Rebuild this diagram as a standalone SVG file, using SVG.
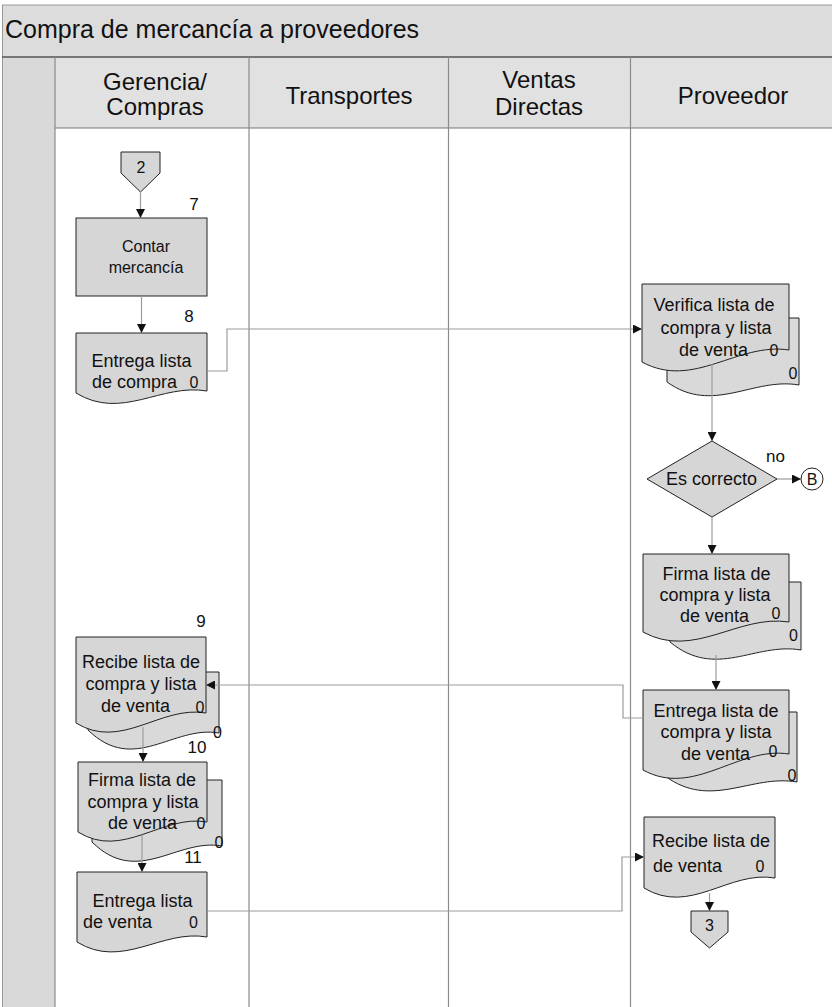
<svg xmlns="http://www.w3.org/2000/svg" width="832" height="1007" viewBox="0 0 832 1007">
  <defs>
    <marker id="ah" viewBox="0 0 10 10" refX="10" refY="5" markerWidth="9" markerHeight="9" markerUnits="userSpaceOnUse" orient="auto">
      <path d="M0,0 L10,5 L0,10 Z" fill="#111"/>
    </marker>
    <style>
      .t { font-family: "Liberation Sans", Arial, sans-serif; fill: #111; }
      .title { font-size: 25px; }
      .lane { font-size: 24px; text-anchor: middle; }
      .txt { font-size: 18px; }
      .mid { text-anchor: middle; }
      .num { font-size: 17px; text-anchor: middle; }
      .zero { font-size: 16px; text-anchor: middle; }
      .shape { fill: #d6d6d6; stroke: #222; stroke-width: 1; }
      .back { fill: #d9d9d9; stroke: #222; stroke-width: 1; }
      .divider { stroke: #8a8a8a; stroke-width: 1.2; }
      .conn { fill: none; stroke: #9c9c9c; stroke-width: 1.2; }
      .flow { fill: none; stroke: #9c9c9c; stroke-width: 1.2; marker-end: url(#ah); }
    </style>
  </defs>

  <!-- pool background -->
  <rect x="0" y="0" width="832" height="1007" fill="#ffffff"/>
  <rect x="2" y="5" width="830" height="52" fill="#dcdcdc"/>
  <rect x="2" y="57" width="53" height="950" fill="#d9d9d9"/>
  <rect x="55" y="57" width="777" height="71" fill="#e1e1e1"/>
  <line x1="2" y1="5" x2="832" y2="5" stroke="#999"/>
  <line x1="2.5" y1="5" x2="2.5" y2="1007" stroke="#999"/>
  <line x1="2" y1="57" x2="832" y2="57" stroke="#555" stroke-width="1.5"/>
  <line x1="55" y1="128" x2="832" y2="128" stroke="#777" stroke-width="1.2"/>
  <text class="t title" x="5" y="38">Compra de mercancía a proveedores</text>

  <!-- lanes -->
  <g id="lanes">
    <line class="divider" x1="55" y1="57" x2="55" y2="1007"/>
    <line class="divider" x1="249" y1="57" x2="249" y2="1007"/>
    <line class="divider" x1="448.5" y1="57" x2="448.5" y2="1007"/>
    <line class="divider" x1="630.5" y1="57" x2="630.5" y2="1007"/>
    <text class="t lane" x="155" y="90">Gerencia/</text>
    <text class="t lane" x="155" y="115">Compras</text>
    <text class="t lane" x="349" y="104">Transportes</text>
    <text class="t lane" x="539" y="88">Ventas</text>
    <text class="t lane" x="539" y="115">Directas</text>
    <text class="t lane" x="733" y="104">Proveedor</text>
  </g>

  <!-- Gerencia / Compras -->
  <g id="offpage-2">
    <polygon class="shape" points="121,152 160,152 160,173 140.5,192 121,173"/>
    <text class="t zero" x="141" y="173">2</text>
  </g>
  <g id="contar-mercancia">
    <rect class="shape" x="76" y="218" width="131" height="78"/>
    <text class="t num" x="194" y="210">7</text>
    <text class="t mid" x="146" y="252" font-size="16">Contar</text>
    <text class="t mid" x="146" y="273" font-size="16">mercancía</text>
  </g>
  <g id="entrega-lista-compra">
    <path class="shape" d="M76,333 H207 V391 C161,383 122,421 76,393 Z"/>
    <text class="t num" x="189" y="322">8</text>
    <text class="t txt mid" x="141.5" y="367">Entrega lista</text>
    <text class="t txt" x="92" y="388">de compra</text>
    <text class="t zero" x="194" y="388">0</text>
  </g>
  <g id="recibe-listas">
    <path class="back" d="M88,672 H219 V733 C173,725 134,775 88,730 Z"/>
    <path class="shape" d="M76,637 H206 V713 C160.5,705 121.5,751 76,723 Z"/>
    <text class="t num" x="201" y="627">9</text>
    <text class="t txt mid" x="141" y="668">Recibe lista de</text>
    <text class="t txt mid" x="141" y="690">compra y lista</text>
    <text class="t txt" x="101" y="712">de venta</text>
    <text class="t zero" x="200" y="713">0</text>
    <text class="t zero" x="217.5" y="738">0</text>
  </g>
  <g id="firma-listas-gerencia">
    <path class="back" d="M92,780 H222 V846 C176.5,838 137.5,887 92,842 Z"/>
    <path class="shape" d="M78,762 H207 V822 C162,814 123,860 78,832 Z"/>
    <text class="t num" x="197" y="753">10</text>
    <text class="t txt mid" x="142" y="786">Firma lista de</text>
    <text class="t txt mid" x="143" y="808">compra y lista</text>
    <text class="t txt" x="108" y="829">de venta</text>
    <text class="t zero" x="201" y="829">0</text>
    <text class="t zero" x="219" y="848">0</text>
  </g>
  <g id="entrega-lista-venta">
    <path class="shape" d="M77,872 H207 V937 C161.5,929 122.5,970 77,942 Z"/>
    <text class="t num" x="193" y="863">11</text>
    <text class="t txt mid" x="142.5" y="907">Entrega lista</text>
    <text class="t txt" x="83" y="928">de venta</text>
    <text class="t zero" x="193.5" y="928">0</text>
  </g>

  <!-- Proveedor -->
  <g id="verifica-listas">
    <path class="back" d="M667,318 H799 V385 C753,377 713,415 667,382 Z"/>
    <path class="shape" d="M642,284 H789 V350 C737.5,342 693.5,390 642,362 Z"/>
    <text class="t txt mid" x="714" y="311">Verifica lista de</text>
    <text class="t txt mid" x="716" y="334">compra y lista</text>
    <text class="t txt" x="679" y="356">de venta</text>
    <text class="t zero" x="774" y="356">0</text>
    <text class="t zero" x="793" y="379">0</text>
  </g>
  <g id="es-correcto">
    <polygon class="shape" points="712,441 777,479 712,517 647,479"/>
    <text class="t txt mid" x="711.5" y="485">Es correcto</text>
    <text class="t num" x="775.5" y="462">no</text>
  </g>
  <g id="conector-b">
    <circle cx="812" cy="479" r="11" fill="#ffffff" stroke="#222" stroke-width="1"/>
    <text class="t zero" x="812" y="485">B</text>
  </g>
  <g id="firma-listas-proveedor">
    <path class="back" d="M670,582 H801 V650 C755,642 716,680 670,642 Z"/>
    <path class="shape" d="M643,554 H789 V622 C738,614 694,660 643,632 Z"/>
    <text class="t txt mid" x="716.5" y="580">Firma lista de</text>
    <text class="t txt mid" x="715" y="601">compra y lista</text>
    <text class="t txt" x="680" y="622">de venta</text>
    <text class="t zero" x="776" y="619">0</text>
    <text class="t zero" x="793.5" y="641">0</text>
  </g>
  <g id="entrega-listas-proveedor">
    <path class="back" d="M665,712 H797 V782 C751,774 711,810 665,776 Z"/>
    <path class="shape" d="M643,690 H789 V754 C738,746 694,798 643,770 Z"/>
    <text class="t txt mid" x="716" y="717">Entrega lista de</text>
    <text class="t txt mid" x="716" y="738">compra y lista</text>
    <text class="t txt" x="681" y="760">de venta</text>
    <text class="t zero" x="773" y="757">0</text>
    <text class="t zero" x="792" y="781">0</text>
  </g>
  <g id="recibe-lista-venta">
    <path class="shape" d="M644,817 H775 V878 C729,870 690,916 644,888 Z"/>
    <text class="t txt mid" x="711" y="847">Recibe lista de</text>
    <text class="t txt" x="653" y="872">de venta</text>
    <text class="t zero" x="760" y="872">0</text>
  </g>
  <g id="offpage-3">
    <polygon class="shape" points="691,911 728,911 728,932 709.5,948 691,932"/>
    <text class="t zero" x="709.5" y="931">3</text>
  </g>

  <!-- connectors -->
  <g id="connectors">
    <path class="flow" d="M140.5,192 V218"/>
    <path class="flow" d="M141.5,296 V333"/>
    <path class="flow" d="M207,371 H227 V329 H642"/>
    <path class="flow" d="M712,364 V441"/>
    <path class="flow" d="M777,479 H801"/>
    <path class="flow" d="M712,517 V554"/>
    <path class="flow" d="M716,655 V690"/>
    <path class="flow" d="M643,718 H623 V685 H206"/>
    <path class="flow" d="M143,727 V762"/>
    <path class="flow" d="M142,835 V872"/>
    <path class="flow" d="M207,911 H622 V857 H644"/>
    <path class="flow" d="M709.5,893 V911"/>
  </g>
</svg>
